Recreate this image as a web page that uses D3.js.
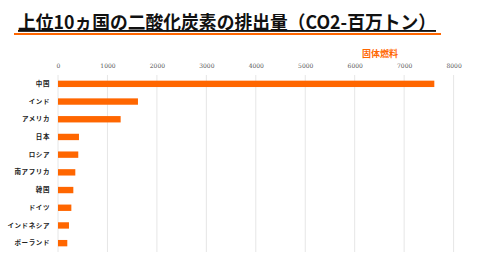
<!DOCTYPE html>
<html>
<head>
<meta charset="utf-8">
<script src="https://cdn.jsdelivr.net/npm/d3@7"></script>
<style>
  body { margin: 0; background: #fff; }
  svg { display: block; }
</style>
</head>
<body>
<div id="chart"></div>
<script>
// data (million tonnes CO2, solid fuels)
var countries = ["中国", "インド", "アメリカ", "日本", "ロシア", "南アフリカ", "韓国", "ドイツ", "インドネシア", "ポーランド"];
var values = [7610, 1617, 1267, 424, 410, 350, 310, 270, 222, 188];
var ticks = [0, 1000, 2000, 3000, 4000, 5000, 6000, 7000, 8000];
var seriesName = "固体燃料";
var titleText = "上位10ヵ国の二酸化炭素の排出量（CO2-百万トン）";

var orange = "#ff6600";
var W = 480, H = 270;
var margin = {top: 75, right: 27, bottom: 18, left: 58};
var width = W - margin.left - margin.right,
    height = H - margin.top - margin.bottom;

var svg = d3.select("#chart").append("svg")
  .attr("width", W)
  .attr("height", H);

// title + underline
svg.append("text")
  .attr("x", 18)
  .attr("y", 29)
  .attr("textLength", 418)
  .attr("lengthAdjust", "spacingAndGlyphs")
  .style("font-family", "'Noto Sans CJK JP', sans-serif")
  .style("font-weight", "bold")
  .style("font-size", "18.5px")
  .style("text-decoration", "underline")
  .style("fill", "#111")
  .text(titleText);

svg.append("line")
  .attr("x1", 14).attr("x2", 441)
  .attr("y1", 34).attr("y2", 34)
  .style("stroke", orange)
  .style("stroke-width", 2);

// legend label
svg.append("text")
  .attr("x", 380)
  .attr("y", 57)
  .attr("text-anchor", "middle")
  .style("font-family", "'Noto Sans CJK JP', sans-serif")
  .style("font-weight", "bold")
  .style("font-size", "9px")
  .style("fill", orange)
  .text(seriesName);

var g = svg.append("g")
  .attr("transform", "translate(" + margin.left + "," + margin.top + ")");

var x = d3.scaleLinear()
  .domain([0, 8000])
  .range([0, 395.6]);

var y = d3.scaleBand()
  .domain(countries)
  .range([0, height])
  .paddingInner(0.64)
  .paddingOuter(0.32);

// gridlines
g.selectAll(".grid")
  .data(ticks)
  .enter()
  .append("line")
    .attr("class", "grid")
    .attr("x1", function(d) { return x(d); })
    .attr("x2", function(d) { return x(d); })
    .attr("y1", 0)
    .attr("y2", height)
    .style("stroke", "#e6e6e6")
    .style("stroke-width", 1);

// top axis labels
var xAxis = g.append("g")
  .attr("transform", "translate(0,-4)")
  .call(d3.axisTop(x).tickValues(ticks).tickSize(0).tickFormat(d3.format("d")));
xAxis.select(".domain").remove();
xAxis.selectAll("text")
  .attr("fill", "#555")
  .style("font-family", "'DejaVu Serif', serif")
  .style("font-size", "6px")
  .style("fill", "#555");

// category labels
var yAxis = g.append("g")
  .attr("transform", "translate(-5,0)")
  .call(d3.axisLeft(y).tickSize(0));
yAxis.select(".domain").remove();
yAxis.selectAll("text")
  .attr("fill", "#222")
  .style("font-family", "'Noto Sans CJK JP', sans-serif")
  .style("font-weight", "bold")
  .style("font-size", "6.5px")
  .style("letter-spacing", "0.6px")
  .style("fill", "#222");

// bars
g.selectAll(".bar")
  .data(values)
  .enter()
  .append("rect")
    .attr("class", "bar")
    .attr("x", x(0))
    .attr("y", function(d, i) { return y(countries[i]); })
    .attr("width", function(d) { return x(d) - x(0); })
    .attr("height", y.bandwidth())
    .style("fill", orange);
</script>
</body>
</html>
